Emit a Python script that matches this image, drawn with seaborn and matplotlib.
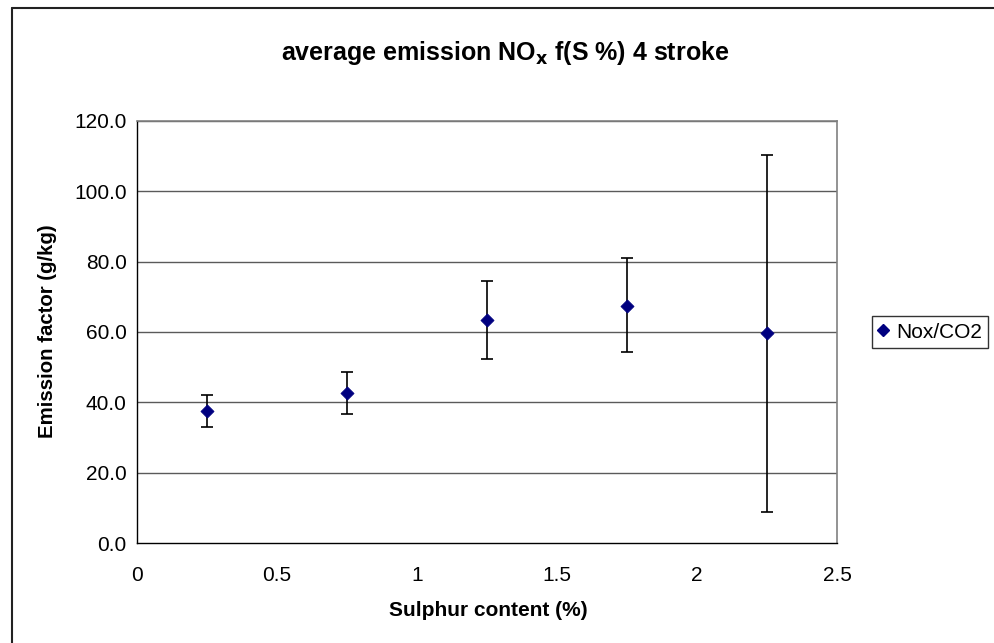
import matplotlib
matplotlib.use("Agg")
import matplotlib.pyplot as plt
from matplotlib.lines import Line2D
import seaborn as sns
import pandas as pd

# Data
sulphur = [0.25, 0.75, 1.25, 1.75, 2.25]
nox_mean = [37.6, 42.8, 63.4, 67.5, 59.8]
err_upper = [42.2, 48.7, 74.4, 81.0, 110.3]
err_lower = [33.0, 36.7, 52.4, 54.3, 8.8]
series_name = "Nox/CO2"
y_ticks = [0, 20, 40, 60, 80, 100, 120]
x_ticks = [0, 0.5, 1, 1.5, 2, 2.5]
x_tick_labels = ["0", "0.5", "1", "1.5", "2", "2.5"]

df = pd.DataFrame({"x": sulphur, "y": nox_mean, "series": series_name})

sns.set_style("white")
plt.rcParams["font.family"] = ["Liberation Sans", "DejaVu Sans"]
plt.rcParams["text.color"] = "black"
plt.rcParams["xtick.color"] = "black"
plt.rcParams["ytick.color"] = "black"
plt.rcParams["xtick.labelcolor"] = "black"
plt.rcParams["ytick.labelcolor"] = "black"

W, H = 995, 643
fig = plt.figure(figsize=(W / 100, H / 100), dpi=100)
ax = fig.add_axes([137 / W, 1 - 543.3 / H, (837 - 137) / W, (543.3 - 120.7) / H])

# horizontal gridlines
for yv in y_ticks[1:]:
    ax.axhline(yv, color="#5a5a5a", lw=1.0, zorder=1)

# error bars
yerr = [[m - lo for m, lo in zip(nox_mean, err_lower)],
        [hi - m for m, hi in zip(nox_mean, err_upper)]]
ax.errorbar(sulphur, nox_mean, yerr=yerr, fmt="none", ecolor="black",
            elinewidth=1.2, capsize=4.5, capthick=1.2, zorder=2)

sns.scatterplot(data=df, x="x", y="y", marker="D", color="#000080",
                s=45, edgecolor="#000080", linewidth=0.5, ax=ax, zorder=3,
                legend=False)

ax.set_xlim(0, 2.5)
ax.set_ylim(0, 120)
ax.set_xticks(x_ticks)
ax.set_xticklabels(x_tick_labels)
ax.set_yticks(y_ticks)
ax.set_yticklabels([f"{v:.1f}" for v in y_ticks])
ax.tick_params(axis="both", direction="out", length=4.5, width=1, color="black",
               labelcolor="black", labelsize=15, pad=3)
ax.tick_params(axis="x", pad=12)

for s in ["left", "bottom"]:
    ax.spines[s].set_color("black")
    ax.spines[s].set_linewidth(1.0)
for s in ["top", "right"]:
    ax.spines[s].set_color("#808080")
    ax.spines[s].set_linewidth(1.2)

ax.set_xlabel("")
ax.set_ylabel("")
fig.text(488 / W, 1 - 610 / H, "Sulphur content (%)", ha="center", va="center",
         fontsize=15, fontweight="bold", color="black")
fig.text(48 / W, 1 - 331 / H, "Emission factor (g/kg)", ha="center", va="center",
         rotation=90, fontsize=14.7, fontweight="bold", color="black")
fig.text(505 / W, 1 - 53 / H, r"average emission NO$_\mathbf{x}$ f(S %) 4 stroke",
         ha="center", va="center", fontsize=18, fontweight="bold", color="black")

# legend
handle = Line2D([], [], marker="D", color="#000080", linestyle="none",
                markersize=6, label=series_name)
leg = fig.legend(handles=[handle], loc="center left",
                 bbox_to_anchor=(872 / W, 1 - 332 / H), frameon=True,
                 fancybox=False, edgecolor="black", fontsize=15,
                 handlelength=0.5, handletextpad=0.35, borderpad=0.3,
                 borderaxespad=0, labelcolor="black")
leg.get_frame().set_linewidth(1.0)

# outer chart frame (left and top only visible)
fig.add_artist(Line2D([12 / W, 12 / W], [0, 1 - 8 / H], color="#222222", lw=1.5,
                      transform=fig.transFigure))
fig.add_artist(Line2D([12 / W, 1], [1 - 8 / H, 1 - 8 / H], color="#222222", lw=1.5,
                      transform=fig.transFigure))

fig.savefig("out.png", dpi=100, facecolor="white")
